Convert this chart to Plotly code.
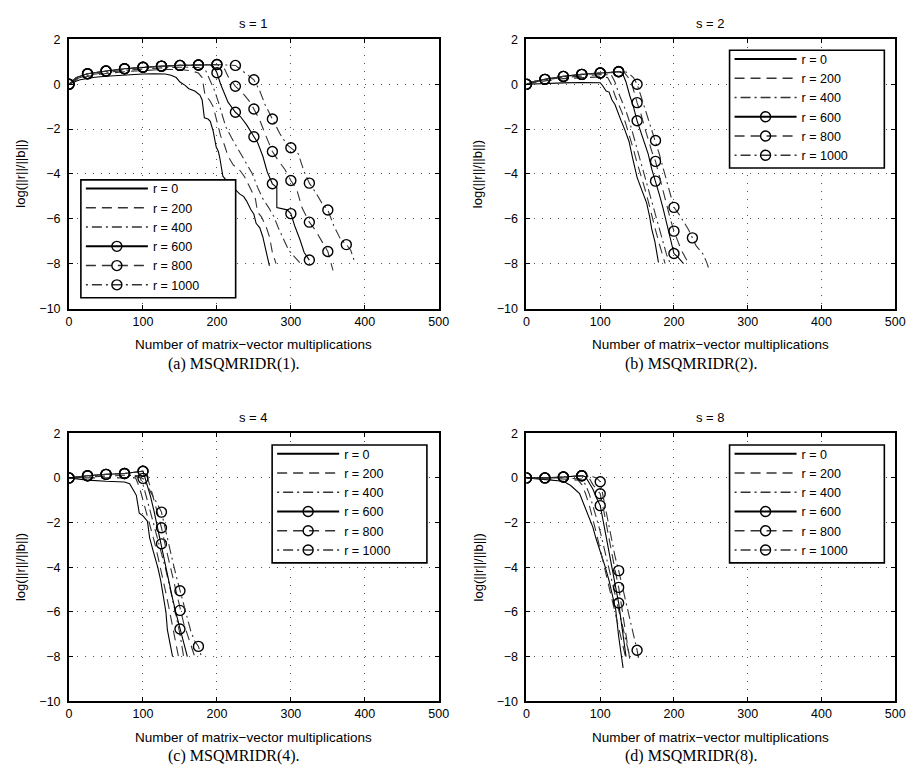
import plotly.graph_objects as go

# ---------------- text ----------------
LABELS = ["r = 0", "r = 200", "r = 400", "r = 600", "r = 800", "r = 1000"]
SUB_TITLES = ["s = 1", "s = 2", "s = 4", "s = 8"]
CAPTIONS = ["(a) MSQMRIDR(1).", "(b) MSQMRIDR(2).", "(c) MSQMRIDR(4).", "(d) MSQMRIDR(8)."]
XTITLE = "Number of matrix\u2212vector multiplications"
YTITLE = "log(||r||/||b||)"
X_TICKS = [0, 100, 200, 300, 400, 500]
Y_TICKS = [-10, -8, -6, -4, -2, 0, 2]

# ---------------- data: (a) s = 1 ----------------
a_r0_x = [0, 5, 10, 15, 25, 35, 50, 65, 75, 90, 100, 115, 130, 138, 145, 150, 157, 162, 170, 177, 180, 183, 188, 191, 195, 199, 202, 204, 206, 208, 213, 218, 222, 231, 236, 240, 246, 250, 253, 258, 262, 266, 269, 271]
a_r0_y = [0, 0.08, 0.15, 0.2, 0.27, 0.31, 0.36, 0.4, 0.42, 0.45, 0.46, 0.47, 0.46, 0.4, 0.3, 0.1, -0.05, -0.2, -0.3, -0.48, -0.7, -1.5, -1.55, -1.65, -2.1, -2.8, -3.0, -3.3, -3.8, -4.1, -4.3, -4.4, -4.6, -4.9, -5.0, -5.2, -5.6, -5.8, -6.2, -6.4, -6.8, -7.4, -7.7, -8.1]
a_r200_x = [0, 10, 25, 50, 75, 100, 125, 150, 165, 175, 180, 184, 190, 195, 199, 202, 205, 210, 215, 222, 230, 237, 243, 248, 252, 255, 260, 266, 271, 275, 280]
a_r200_y = [0, 0.2, 0.35, 0.48, 0.56, 0.62, 0.66, 0.66, 0.6, 0.5, 0.3, -0.5, -0.7, -1.0, -1.5, -1.9, -2.3, -2.7, -3.2, -3.6, -3.8, -4.1, -4.5, -4.8, -5.1, -5.7, -5.9, -6.3, -6.8, -7.5, -8.0]
a_r400_x = [0, 10, 25, 50, 75, 100, 125, 150, 175, 185, 192, 197, 202, 207, 212, 220, 227, 233, 240, 248, 255, 262, 270, 277, 283, 290, 297, 305, 312]
a_r400_y = [0, 0.25, 0.4, 0.53, 0.62, 0.69, 0.73, 0.76, 0.75, 0.6, 0.1, -0.3, -0.8, -1.3, -1.9, -2.4, -2.8, -3.1, -3.5, -4.0, -4.6, -5.1, -5.5, -5.9, -6.4, -6.9, -7.4, -7.7, -7.95]
a_r600_x = [0, 10, 25, 40, 50, 75, 100, 125, 150, 175, 190, 195, 200, 205, 210, 215, 225, 232, 240, 250, 255, 262, 268, 275, 281, 281, 295, 300, 305, 312, 318, 325]
a_r600_y = [0, 0.3, 0.47, 0.55, 0.59, 0.69, 0.76, 0.81, 0.84, 0.86, 0.87, 0.8, 0.51, 0.0, -0.4, -0.8, -1.25, -1.45, -1.8, -2.34, -2.6, -3.2, -3.9, -4.44, -4.6, -5.5, -5.6, -5.77, -6.3, -6.9, -7.5, -7.84]
a_r800_x = [0, 10, 25, 50, 75, 100, 125, 150, 175, 200, 210, 215, 225, 235, 245, 250, 258, 265, 275, 283, 292, 300, 308, 315, 325, 333, 342, 350, 357]
a_r800_y = [0, 0.3, 0.47, 0.59, 0.69, 0.76, 0.81, 0.84, 0.86, 0.88, 0.7, 0.35, -0.09, -0.4, -0.8, -1.1, -1.6, -2.2, -3.0, -3.4, -3.8, -4.29, -4.7, -5.5, -6.15, -6.5, -7.0, -7.46, -8.3]
a_r1000_x = [0, 10, 25, 50, 75, 100, 125, 150, 175, 200, 225, 235, 245, 250, 258, 265, 275, 285, 295, 300, 310, 318, 325, 333, 342, 350, 358, 367, 375, 381, 386]
a_r1000_y = [0, 0.3, 0.47, 0.59, 0.69, 0.76, 0.81, 0.84, 0.86, 0.88, 0.84, 0.6, 0.35, 0.2, -0.3, -0.9, -1.55, -2.2, -2.7, -2.83, -3.1, -3.9, -4.41, -4.8, -5.3, -5.61, -6.3, -6.9, -7.15, -7.4, -7.9]

# ---------------- data: (b) s = 2 ----------------
b_r0_x = [0, 25, 50, 75, 100, 104, 108, 112, 116, 120, 123, 128, 133, 139, 144, 150, 155, 160, 163, 167, 170, 174, 177, 179]
b_r0_y = [0, 0.04, 0.06, 0.08, 0.07, -0.1, -0.3, -0.35, -0.7, -0.9, -1.2, -1.6, -2.0, -2.54, -3.3, -4.15, -4.6, -5.0, -5.3, -5.9, -6.48, -7.0, -7.5, -7.95]
b_r200_x = [0, 25, 50, 75, 100, 110, 115, 120, 125, 130, 135, 140, 145, 150, 155, 160, 165, 170, 175, 180, 185, 188]
b_r200_y = [0, 0.15, 0.25, 0.3, 0.33, 0.3, 0.0, -0.5, -0.9, -1.3, -1.8, -2.3, -2.9, -3.5, -4.0, -4.6, -5.2, -5.9, -6.5, -7.1, -7.6, -8.0]
b_r400_x = [0, 25, 50, 75, 100, 115, 120, 125, 130, 135, 140, 145, 150, 155, 160, 165, 170, 175, 180, 185, 190, 195]
b_r400_y = [0, 0.2, 0.3, 0.38, 0.43, 0.42, 0.1, -0.4, -0.8, -1.2, -1.7, -2.3, -2.9, -3.4, -4.0, -4.7, -5.3, -5.9, -6.5, -7.1, -7.6, -8.0]
b_r600_x = [0, 10, 25, 50, 75, 100, 125, 130, 135, 140, 145, 150, 155, 160, 165, 170, 175, 180, 185, 190, 195, 200, 205, 210, 213]
b_r600_y = [0, 0.12, 0.22, 0.35, 0.44, 0.5, 0.56, 0.5, 0.1, -0.5, -1.0, -1.63, -2.1, -2.6, -3.1, -3.8, -4.32, -4.9, -5.5, -6.2, -6.9, -7.55, -7.7, -7.9, -8.0]
b_r800_x = [0, 10, 25, 50, 75, 100, 125, 132, 138, 143, 150, 155, 160, 165, 170, 175, 180, 185, 190, 195, 200, 205, 210, 215, 220]
b_r800_y = [0, 0.12, 0.22, 0.35, 0.44, 0.5, 0.56, 0.55, 0.3, 0.0, -0.82, -1.3, -1.9, -2.5, -3.0, -3.44, -4.1, -4.8, -5.4, -6.0, -6.55, -7.0, -7.4, -7.7, -8.0]
b_r1000_x = [0, 10, 25, 50, 75, 100, 125, 135, 140, 145, 150, 155, 160, 165, 170, 175, 180, 185, 190, 195, 200, 207, 213, 220, 225, 230, 235, 240, 245, 248]
b_r1000_y = [0, 0.12, 0.22, 0.35, 0.44, 0.5, 0.57, 0.55, 0.45, 0.3, 0.0, -0.5, -1.0, -1.5, -2.0, -2.51, -3.1, -3.7, -4.3, -4.9, -5.49, -5.8, -6.1, -6.5, -6.85, -7.2, -7.4, -7.6, -8.0, -8.3]

# ---------------- data: (c) s = 4 ----------------
c_r0_x = [0, 25, 50, 75, 82, 86, 91, 95, 100, 106, 109, 114, 120, 124, 128, 131, 133, 136, 140]
c_r0_y = [0, -0.1, -0.15, -0.18, -0.26, -0.5, -0.78, -1.58, -1.7, -1.94, -2.68, -3.3, -4.0, -4.6, -5.3, -6.0, -6.8, -7.4, -8.0]
c_r200_x = [0, 25, 50, 75, 90, 95, 100, 105, 110, 115, 120, 125, 130, 135, 140, 145, 148]
c_r200_y = [0, 0.0, 0.02, 0.03, 0.0, -0.4, -1.0, -1.6, -2.1, -2.8, -3.5, -4.2, -5.0, -5.8, -6.6, -7.4, -8.0]
c_r400_x = [0, 25, 50, 75, 95, 100, 105, 110, 115, 120, 125, 130, 135, 140, 145, 150, 155]
c_r400_y = [0, 0.05, 0.1, 0.12, 0.1, -0.3, -0.9, -1.5, -2.1, -2.7, -3.3, -4.0, -4.7, -5.4, -6.2, -7.0, -8.0]
c_r600_x = [0, 25, 50, 75, 100, 105, 110, 115, 120, 125, 130, 135, 140, 145, 150, 155, 160]
c_r600_y = [0, 0.1, 0.16, 0.2, 0.3, -0.2, -0.8, -1.5, -2.3, -2.95, -3.8, -4.6, -5.4, -6.1, -6.76, -7.4, -8.0]
c_r800_x = [0, 25, 50, 75, 100, 105, 110, 115, 120, 125, 130, 135, 140, 145, 150, 155, 160, 165, 170]
c_r800_y = [0, 0.1, 0.16, 0.2, 0.3, 0.1, -0.4, -1.0, -1.6, -2.23, -3.0, -3.7, -4.4, -5.2, -5.93, -6.5, -7.0, -7.5, -8.0]
c_r1000_x = [0, 25, 50, 75, 100, 105, 110, 115, 120, 125, 130, 135, 140, 145, 150, 155, 160, 165, 170, 175, 180]
c_r1000_y = [0, 0.1, 0.16, 0.2, -0.02, -0.3, -0.6, -0.9, -1.2, -1.53, -2.3, -3.0, -3.7, -4.4, -5.05, -5.7, -6.3, -6.9, -7.3, -7.54, -8.1]

# ---------------- data: (d) s = 8 ----------------
d_r0_x = [0, 25, 50, 60, 66, 72, 78, 85, 90, 94, 100, 106, 112, 116, 121, 125, 128, 131]
d_r0_y = [0, -0.08, -0.15, -0.34, -0.5, -0.7, -1.2, -1.8, -2.2, -2.68, -3.27, -3.9, -4.6, -5.2, -5.9, -7.1, -7.8, -8.5]
d_r200_x = [0, 25, 50, 70, 75, 80, 85, 90, 95, 100, 105, 110, 115, 120, 125, 130, 135]
d_r200_y = [0, -0.05, -0.05, -0.1, -0.3, -0.7, -1.2, -1.8, -2.5, -3.2, -3.9, -4.6, -5.3, -6.0, -6.8, -7.5, -8.1]
d_r400_x = [0, 25, 50, 75, 80, 85, 90, 95, 100, 105, 110, 115, 120, 125, 130, 135, 140]
d_r400_y = [0, 0.0, 0.0, -0.05, -0.3, -0.7, -1.2, -1.8, -2.4, -3.1, -3.8, -4.5, -5.2, -5.9, -6.6, -7.3, -8.0]
d_r600_x = [0, 25, 50, 75, 80, 85, 90, 95, 100, 105, 110, 115, 120, 125, 130, 135]
d_r600_y = [0, 0.0, 0.04, 0.1, 0.05, -0.2, -0.5, -0.9, -1.24, -2.1, -3.0, -3.9, -4.8, -5.6, -6.8, -8.0]
d_r800_x = [0, 25, 50, 75, 85, 90, 95, 100, 105, 110, 115, 120, 125, 130, 135, 140]
d_r800_y = [0, 0.0, 0.04, 0.1, 0.0, -0.3, -0.5, -0.71, -1.5, -2.4, -3.3, -4.1, -4.9, -6.0, -7.1, -8.1]
d_r1000_x = [0, 25, 50, 75, 90, 95, 100, 105, 110, 115, 120, 125, 130, 135, 140, 145, 150, 152]
d_r1000_y = [0, 0.0, 0.04, 0.1, 0.05, 0.0, -0.17, -1.0, -1.9, -2.7, -3.5, -4.15, -4.9, -5.6, -6.3, -7.0, -7.71, -8.1]

PANELS = [
    [(a_r0_x, a_r0_y), (a_r200_x, a_r200_y), (a_r400_x, a_r400_y),
     (a_r600_x, a_r600_y), (a_r800_x, a_r800_y), (a_r1000_x, a_r1000_y)],
    [(b_r0_x, b_r0_y), (b_r200_x, b_r200_y), (b_r400_x, b_r400_y),
     (b_r600_x, b_r600_y), (b_r800_x, b_r800_y), (b_r1000_x, b_r1000_y)],
    [(c_r0_x, c_r0_y), (c_r200_x, c_r200_y), (c_r400_x, c_r400_y),
     (c_r600_x, c_r600_y), (c_r800_x, c_r800_y), (c_r1000_x, c_r1000_y)],
    [(d_r0_x, d_r0_y), (d_r200_x, d_r200_y), (d_r400_x, d_r400_y),
     (d_r600_x, d_r600_y), (d_r800_x, d_r800_y), (d_r1000_x, d_r1000_y)],
]

# ---------------- styles ----------------
DASH_SOLID = "solid"
DASH_DASH = "10px,6px"
DASH_DOT = "2px,4px,10px,4px"
SERIES_STYLE = [
    dict(dash=DASH_SOLID, color="#000000", marker=False),
    dict(dash=DASH_DASH, color="#333333", marker=False),
    dict(dash=DASH_DOT, color="#333333", marker=False),
    dict(dash=DASH_SOLID, color="#000000", marker=True),
    dict(dash=DASH_DASH, color="#333333", marker=True),
    dict(dash=DASH_DOT, color="#333333", marker=True),
]
FONT = "Liberation Sans, Arial, Helvetica, sans-serif"
SERIF = "Liberation Serif, Times New Roman, serif"

W, H = 918, 782
# plot areas in pixels (left, right, top, bottom)
AREAS = [(67, 442, 33, 307), (531, 905, 33, 307), (67, 442, 434, 707), (531, 905, 434, 707)]
# legend frames in pixels (left, top); size below
LEGEND_POS = [(79, 176), (737, 44), (273, 446), (737, 446)]
LEG_W, LEG_H = 157, 120

fig = go.Figure()

for p, curves in enumerate(PANELS):
    xa = "x" if p == 0 else f"x{p+1}"
    ya = "y" if p == 0 else f"y{p+1}"
    lg = "legend" if p == 0 else f"legend{p+1}"
    for s, (xs, ys) in enumerate(curves):
        st = SERIES_STYLE[s]
        fig.add_trace(go.Scatter(
            x=xs, y=ys, mode="lines", xaxis=xa, yaxis=ya, showlegend=False,
            line=dict(color=st["color"], width=1.1, dash=st["dash"]),
            hoverinfo="skip"))
        if st["marker"]:
            mx = [x for x in xs if x % 25 == 0]
            my = [y for x, y in zip(xs, ys) if x % 25 == 0]
            fig.add_trace(go.Scatter(
                x=mx, y=my, mode="markers", xaxis=xa, yaxis=ya, showlegend=False,
                marker=dict(symbol="circle-open", size=10, color="#000000",
                            line=dict(width=1.4, color="#000000")),
                hoverinfo="skip"))
    # legend entries
    for s, lab in enumerate(LABELS):
        st = SERIES_STYLE[s]
        lw = 2 if st["dash"] == DASH_SOLID else 1.5
        fig.add_trace(go.Scatter(
            x=[None], y=[None], xaxis=xa, yaxis=ya, name=lab, legend=lg,
            mode="lines+markers" if st["marker"] else "lines",
            line=dict(color=st["color"], width=lw, dash=st["dash"]),
            marker=dict(symbol="circle-open", size=10, color="#000000",
                        line=dict(width=1.4, color="#000000")),
            showlegend=True))

layout = dict(
    width=W, height=H, margin=dict(l=0, r=0, t=0, b=0),
    paper_bgcolor="white", plot_bgcolor="white",
    font=dict(family=FONT, size=12, color="#000000"),
    annotations=[], shapes=[],
)

for p, (l, r, t, b) in enumerate(AREAS):
    xk = "xaxis" if p == 0 else f"xaxis{p+1}"
    yk = "yaxis" if p == 0 else f"yaxis{p+1}"
    yref = "y" if p == 0 else f"y{p+1}"
    xref = "x" if p == 0 else f"x{p+1}"
    common = dict(showline=True, linecolor="#000000", linewidth=2, mirror="ticks",
                  ticks="inside", ticklen=4, tickcolor="#000000", tickwidth=1,
                  showgrid=True, gridcolor="#555555", gridwidth=1, griddash="1px,7px",
                  zeroline=False, tickfont=dict(size=12.5, family=FONT),
                  fixedrange=True)
    layout[xk] = dict(common, domain=[l / W, r / W], range=[0, 500],
                      tickvals=X_TICKS, anchor=yref)
    layout[yk] = dict(common, domain=[1 - b / H, 1 - t / H], range=[-10, 2],
                      tickvals=Y_TICKS, anchor=xref, ticklabelstandoff=4)
    lx, ly = LEGEND_POS[p]
    lg = "legend" if p == 0 else f"legend{p+1}"
    layout[lg] = dict(x=lx / W, y=1 - (ly - 6) / H, xanchor="left", yanchor="top",
                      bgcolor="rgba(0,0,0,0)", borderwidth=0,
                      font=dict(size=12.5, family=FONT), tracegroupgap=0,
                      itemwidth=62)
    layout["shapes"].append(dict(
        type="rect", xref="paper", yref="paper", layer="above",
        x0=lx / W, x1=(lx + LEG_W) / W, y0=1 - (ly + LEG_H) / H, y1=1 - ly / H,
        fillcolor="white", line=dict(color="#000000", width=1.6)))
    cx = (l + r) / 2 / W
    layout["annotations"] += [
        dict(text=SUB_TITLES[p], x=cx, y=1 - (t - 16) / H, xref="paper", yref="paper",
             xanchor="center", yanchor="middle", showarrow=False, font=dict(size=13)),
        dict(text=XTITLE, x=cx, y=1 - (b + 37) / H, xref="paper", yref="paper",
             xanchor="center", yanchor="middle", showarrow=False, font=dict(size=13.5)),
        dict(text=CAPTIONS[p], x=(l + r) / 2 / W - 20 / W, y=1 - (b + 56) / H, xref="paper",
             yref="paper", xanchor="center", yanchor="middle", showarrow=False,
             font=dict(size=16, family=SERIF)),
        dict(text=YTITLE, x=(l - 49) / W, y=1 - (t + b) / 2 / H, xref="paper", yref="paper",
             xanchor="center", yanchor="middle", showarrow=False, textangle=-90,
             font=dict(size=13)),
    ]

fig.update_layout(**layout)
fig.write_html("out.html")
